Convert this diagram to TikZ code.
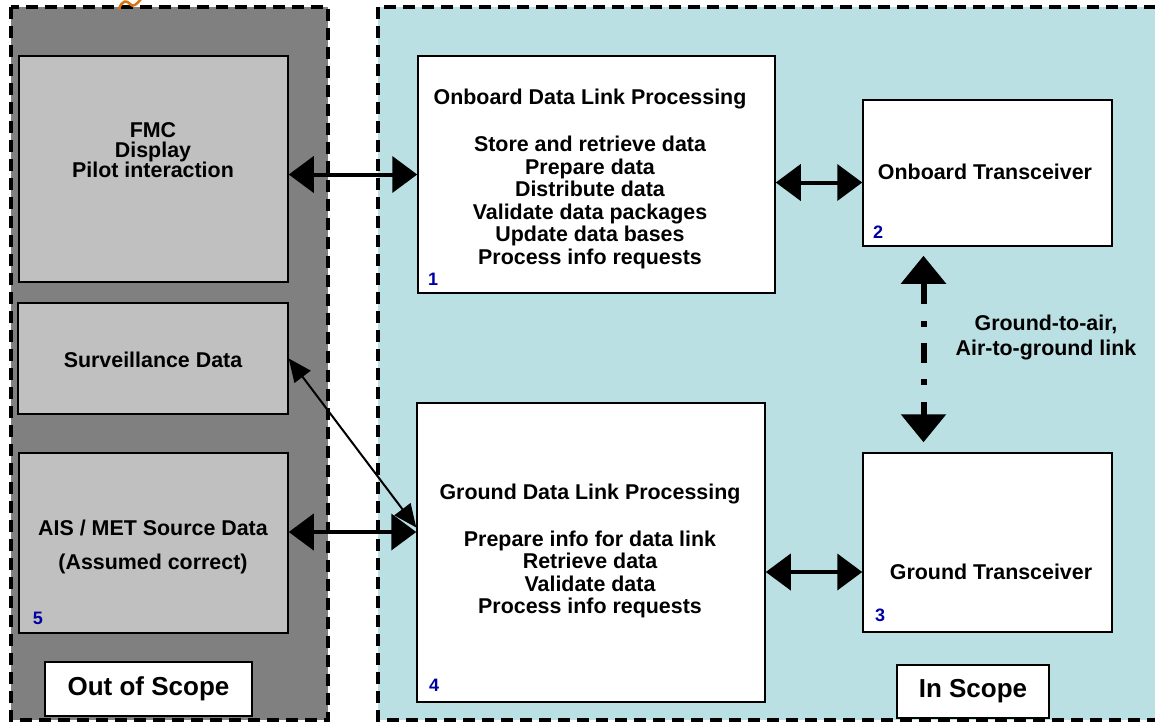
\documentclass[tikz,border=0pt]{standalone}
\usepackage{fontspec}
\setmainfont{Liberation Sans}
\usetikzlibrary{arrows.meta}
\definecolor{outgray}{HTML}{808080}
\definecolor{boxgray}{HTML}{C0C0C0}
\definecolor{inblue}{HTML}{BBE0E3}
\definecolor{numblue}{HTML}{0000A0}
\definecolor{squiggle}{HTML}{D9730D}
\tikzset{
  panel/.style={draw=black, line width=3.5pt, dash pattern=on 12pt off 7pt},
  graybox/.style={draw=black, line width=1.5pt, fill=boxgray, inner sep=0pt},
  whitebox/.style={draw=black, line width=1.5pt, fill=white, inner sep=0pt},
  txt/.style={font=\fontsize{21.4}{22.5}\selectfont\bfseries, align=center},
  num/.style={font=\fontsize{18}{18}\selectfont\bfseries, text=numblue, inner sep=0pt},
  scopelbl/.style={draw=black, line width=1.5pt, fill=white, inner sep=0pt,
    font=\fontsize{26}{26}\selectfont\bfseries},
  bigarrow/.style={line width=4pt,
    {Triangle[length=25pt,width=36pt]}-{Triangle[length=25pt,width=36pt]}},
  thinarrow/.style={line width=2pt,
    {Triangle[length=23pt,width=20pt]}-{Triangle[length=23pt,width=20pt]}},
  linkarrow/.style={line width=6pt, dash pattern=on 22pt off 17pt on 6pt off 16pt on 20pt off 16pt on 6pt off 17pt on 22pt off 10pt,
    {Triangle[length=28pt,width=44pt]}-{Triangle[length=28pt,width=44pt]}}
}
\begin{document}
\begin{tikzpicture}[x=1pt,y=-1pt]
    \useasboundingbox (0,0) rectangle (1155,721);

    % scope panels
    \filldraw[panel, fill=outgray] (11,7) rectangle (328,720);
    \filldraw[panel, fill=inblue] (378,7) rectangle (1175,720);
    \draw[squiggle, line width=2.5pt, line cap=round] (119,9) .. controls (122,0) and (127,0) .. (130,4) .. controls (133,8) and (137,4) .. (141,-1);

    % out of scope
    \node[graybox, minimum width=269pt, minimum height=226pt] (fmc) at (153.5,169) {};
    \node[txt, font=\fontsize{21.4}{20}\selectfont\bfseries] (fmctxt) at (153,150) {FMC\\Display\\Pilot interaction};
    \node[graybox, minimum width=270pt, minimum height=111pt] (sv) at (153,358.5) {};
    \node[txt] (svtxt) at (153,360) {Surveillance Data};
    \node[graybox, minimum width=269pt, minimum height=180pt] (ais) at (153.5,543) {};
    \node[txt] (aistxt) at (153,547) {AIS / MET Source Data\\[11.5pt](Assumed correct)};
    \node[num] (n5) at (38,618) {5};
    \node[scopelbl, minimum width=207pt, minimum height=54pt] (outscope) at (148.5,689) {Out of Scope};

    % in scope
    \node[whitebox, minimum width=357pt, minimum height=237pt] (obp) at (596.5,174.5) {};
    \node[txt] (obptxt) at (590,179) {Onboard Data Link Processing\\[24.5pt]Store and retrieve data\\Prepare data\\Distribute data\\Validate data packages\\Update data bases\\Process info requests};
    \node[num] (n1) at (433,279) {1};
    \node[whitebox, minimum width=249pt, minimum height=146pt] (obt) at (987.5,173) {};
    \node[txt] (obttxt) at (985,172) {Onboard Transceiver};
    \node[num] (n2) at (878,232) {2};
    \node[whitebox, minimum width=348pt, minimum height=299pt] (gdp) at (591,552.5) {};
    \node[txt] (gdptxt) at (590,551) {Ground Data Link Processing\\[24.5pt]Prepare info for data link\\Retrieve data\\Validate data\\Process info requests};
    \node[num] (n4) at (434,685) {4};
    \node[whitebox, minimum width=249pt, minimum height=179pt] (gt) at (987.5,542.5) {};
    \node[txt] (gttxt) at (991,572) {Ground Transceiver};
    \node[num] (n3) at (880,615) {3};
    \node[txt] (linktxt) at (1046,337.5) {Ground-to-air,\\[2.5pt]Air-to-ground link};
    \node[scopelbl, minimum width=152pt, minimum height=53pt] (inscope) at (973,691.5) {In Scope};

    % connectors
    \draw[bigarrow] (fmc.east |- obp.west) -- (obp.west);
    \draw[bigarrow] ([yshift=-8pt]obp.east) coordinate (a2) -- (a2 -| obt.west);
    \draw[bigarrow] ([yshift=11pt]ais.east) coordinate (a3) -- (a3 -| gdp.west);
    \draw[bigarrow] ([yshift=-19.5pt]gdp.east) coordinate (a4) -- (a4 -| gt.west);
    \draw[thinarrow] (sv.east) -- ([yshift=25pt]gdp.west);
    \draw[linkarrow] ([xshift=-64pt,yshift=-9pt]obt.south) -- ([xshift=-64pt,yshift=10pt]gt.north);
\end{tikzpicture}
\end{document}
